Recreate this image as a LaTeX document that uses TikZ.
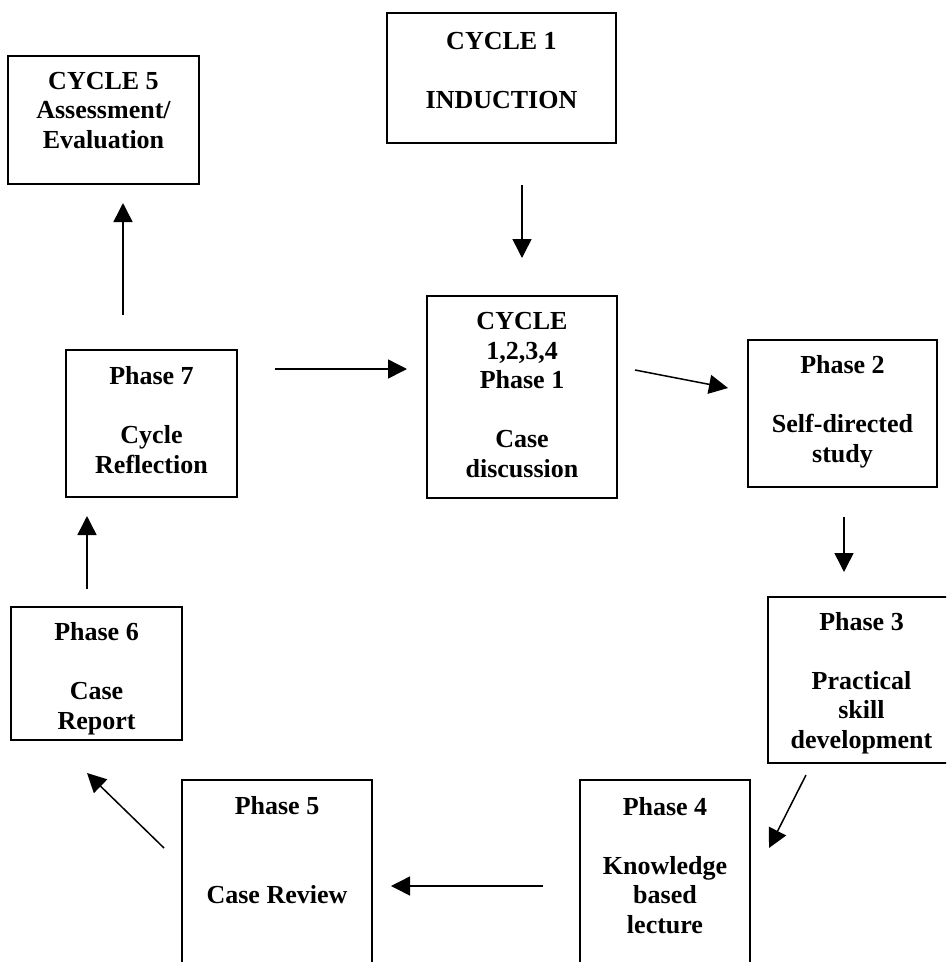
\documentclass[tikz,border=0pt]{standalone}
\usepackage{fontspec}
\setmainfont{Liberation Serif}
\usetikzlibrary{arrows.meta}
\begin{document}
\begin{tikzpicture}[x=1pt,y=-1pt,
  box/.style={draw=black,line width=1.6pt,rectangle,inner sep=0pt},
  lbl/.style={align=center,inner sep=0pt,anchor=base,
    font=\fontsize{26}{29.5}\selectfont\bfseries},
  arr/.style={draw=black,line width=1.5pt,
    -{Triangle[length=19pt,width=19pt]}}]
\useasboundingbox[fill=white] (0,0) rectangle (946,962);
\begin{scope}
\clip (0,0) rectangle (946,962);
% boxes
\node[box,minimum width=191pt,minimum height=128pt] (c5) at (103.5,120) {};
\node[box,minimum width=229pt,minimum height=130pt] (c1) at (501.5,78) {};
\node[box,minimum width=190pt,minimum height=202pt] (p1) at (522,397) {};
\node[box,minimum width=189pt,minimum height=147pt] (p2) at (842.5,413.5) {};
\node[box,minimum width=187pt,minimum height=166pt] (p3) at (861.5,680) {};
\node[box,minimum width=170pt,minimum height=195pt] (p4) at (665,877.5) {};
\node[box,minimum width=190pt,minimum height=195pt] (p5) at (277,877.5) {};
\node[box,minimum width=171pt,minimum height=133pt] (p6) at (96.5,673.5) {};
\node[box,minimum width=171pt,minimum height=147pt] (p7) at (151.5,423.5) {};
\end{scope}
% labels (placed by the baseline of their last line)
\node[lbl] (c5t) at (103.5,148) {CYCLE 5\\Assessment/\\Evaluation};
\node[lbl] (c1t) at (501.5,108) {CYCLE 1\\\mbox{}\\INDUCTION};
\node[lbl] (p1t) at (522,477) {CYCLE\\1,2,3,4\\Phase 1\\\mbox{}\\Case\\discussion};
\node[lbl] (p2t) at (842.5,462) {Phase 2\\\mbox{}\\Self-directed\\study};
\node[lbl] (p3t) at (861.5,748) {Phase 3\\\mbox{}\\Practical\\skill\\development};
\node[lbl] (p4t) at (665,933) {Phase 4\\\mbox{}\\Knowledge\\based\\lecture};
\node[lbl] (p5t) at (277,903) {Phase 5\\\mbox{}\\\mbox{}\\Case Review};
\node[lbl] (p6t) at (96.5,729) {Phase 6\\\mbox{}\\Case\\Report};
\node[lbl] (p7t) at (151.5,473) {Phase 7\\\mbox{}\\Cycle\\Reflection};
% arrow ends
\coordinate (a1s) at (123,315);  \coordinate (a1e) at (123,203);
\coordinate (a2s) at (522,185);  \coordinate (a2e) at (522,258);
\coordinate (a3s) at (275,369);  \coordinate (a3e) at (407,369);
\coordinate (a4s) at (635,370);  \coordinate (a4e) at (728,388);
\coordinate (a5s) at (844,517);  \coordinate (a5e) at (844,572);
\coordinate (a6s) at (806,775);  \coordinate (a6e) at (769,848);
\coordinate (a7s) at (543,886);  \coordinate (a7e) at (391,886);
\coordinate (a8s) at (164,848);  \coordinate (a8e) at (87,773);
\coordinate (a9s) at (87,589);   \coordinate (a9e) at (87,516);
% connectors
\draw[arr] (a1s) -- (a1e);
\draw[arr] (a2s) -- (a2e);
\draw[arr] (a3s) -- (a3e);
\draw[arr] (a4s) -- (a4e);
\draw[arr] (a5s) -- (a5e);
\draw[arr] (a6s) -- (a6e);
\draw[arr] (a7s) -- (a7e);
\draw[arr] (a8s) -- (a8e);
\draw[arr] (a9s) -- (a9e);
\end{tikzpicture}
\end{document}
